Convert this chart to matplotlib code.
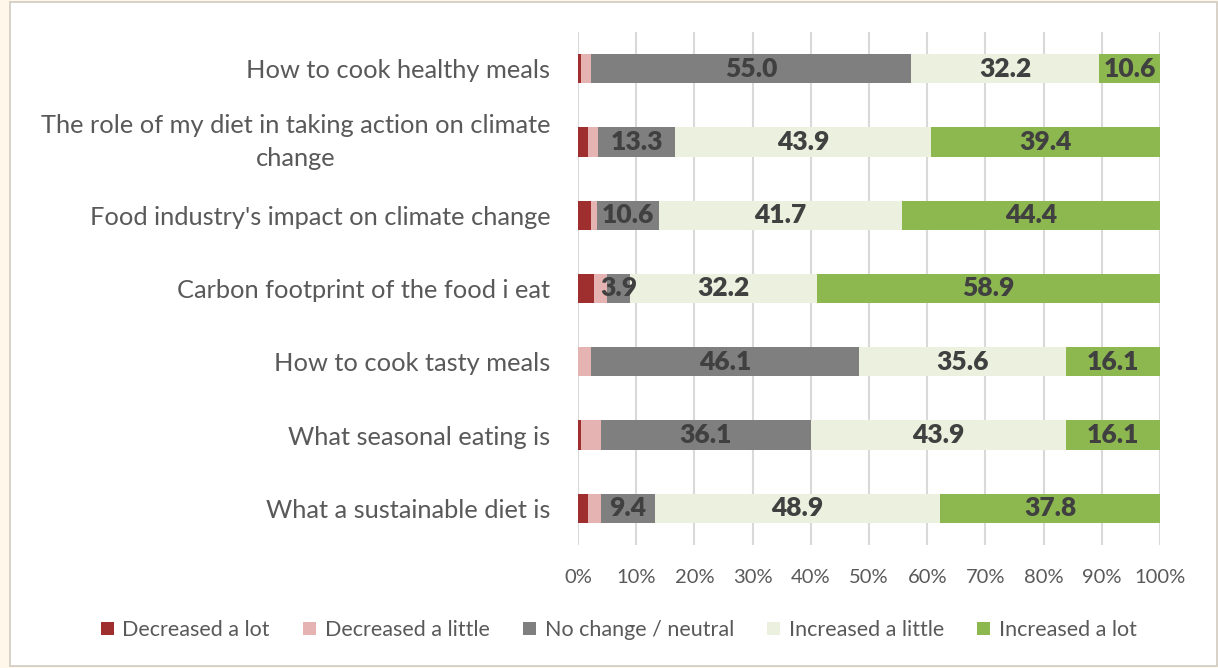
import matplotlib
matplotlib.use("Agg")
import matplotlib.pyplot as plt
from matplotlib.patches import Rectangle, Patch
import numpy as np

# Survey: change in knowledge per topic (% of respondents)
topics = [
    "How to cook healthy meals",
    "The role of my diet in taking action on climate\nchange",
    "Food industry's impact on climate change",
    "Carbon footprint of the food i eat",
    "How to cook tasty meals",
    "What seasonal eating is",
    "What a sustainable diet is",
]
series_names = [
    "Decreased a lot",
    "Decreased a little",
    "No change / neutral",
    "Increased a little",
    "Increased a lot",
]
decreased_lot = [0.6, 1.7, 2.2, 2.8, 0.0, 0.6, 1.7]
decreased_little = [1.7, 1.7, 1.1, 2.2, 2.2, 3.3, 2.2]
neutral = [55.0, 13.3, 10.6, 3.9, 46.1, 36.1, 9.4]
increased_little = [32.2, 43.9, 41.7, 32.2, 35.6, 43.9, 48.9]
increased_lot = [10.6, 39.4, 44.4, 58.9, 16.1, 16.1, 37.8]
labelled = [False, False, True, True, True]  # which series get value labels

colours = ["#9E2F2E", "#E6B3B3", "#7F7F7F", "#EBF1DE", "#8DB850"]
FONT = "Lato"

fig = plt.figure(figsize=(12.18, 6.68), dpi=100)
fig.patch.set_facecolor("#FFF8EA")
# white panel with a thin frame, like the exported chart area
fig.add_artist(Rectangle((10 / 1218, 2 / 668), 1207 / 1218, 664 / 668,
                         transform=fig.transFigure, facecolor="white",
                         edgecolor="#CFCAC0", linewidth=1.2, zorder=0))

ax = fig.add_axes([578 / 1218, 123 / 668, 582 / 1218, 513 / 668])
ax.set_facecolor("none")

all_series = [decreased_lot, decreased_little, neutral, increased_little, increased_lot]
y = np.arange(len(topics))
left = np.zeros(len(topics))
for name, vals, col, show in zip(series_names, all_series, colours, labelled):
    vals = np.array(vals)
    bars = ax.barh(y, vals, left=left, height=0.4, color=col, label=name, zorder=2)
    if show:
        for b, v in zip(bars, vals):
            ax.text(b.get_x() + b.get_width() / 2, b.get_y() + b.get_height() / 2,
                    f"{v:.1f}", ha="center", va="center", fontsize=19,
                    fontweight="heavy", color="#404040", family=FONT, zorder=3)
    left += vals

ax.set_xlim(0, 100)
ax.set_ylim(len(topics) - 0.5, -0.5)
ax.set_xticks(np.arange(0, 101, 10))
ax.set_xticklabels([f"{t}%" for t in range(0, 101, 10)], fontsize=14.5,
                   color="#595959", family=FONT)
ax.set_yticks(y)
ax.set_yticklabels(topics, fontsize=18.3, color="#595959", family=FONT,
                   linespacing=1.5, multialignment="center")
# the wrapped label sits a little high in the original
for lbl in ax.get_yticklabels():
    if "\n" in lbl.get_text():
        lbl.set_verticalalignment("center")
ax.tick_params(axis="both", length=0)
ax.tick_params(axis="y", pad=20)
ax.tick_params(axis="x", pad=17)
ax.grid(axis="x", color="#D9D9D9", linewidth=1.5, zorder=0)
ax.set_axisbelow(True)
for s in ax.spines.values():
    s.set_visible(False)

handles = [Patch(facecolor=c, edgecolor="none") for c in colours]
fig.legend(handles, series_names, loc="center", bbox_to_anchor=(0.508, 38 / 668),
           ncol=5, frameon=False, handlelength=0.6, handleheight=0.6,
           handletextpad=0.4, columnspacing=1.55,
           prop={"family": FONT, "size": 15.5}, labelcolor="#595959")

fig.savefig("out.png", dpi=100, facecolor=fig.get_facecolor())
